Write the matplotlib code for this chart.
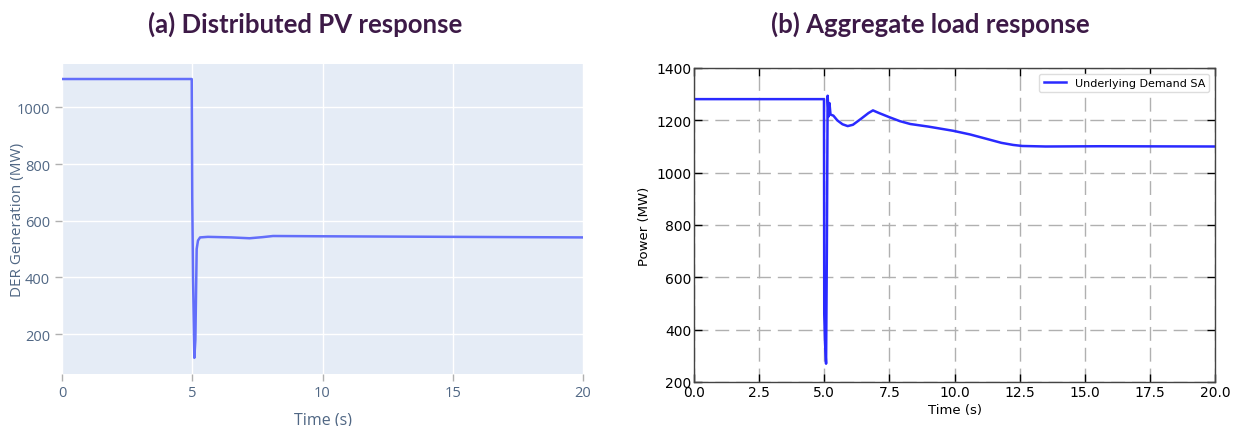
import matplotlib
matplotlib.use("Agg")
import matplotlib.pyplot as plt

# ---- data ----
pv_time = [0, 4.98, 5.0, 5.03, 5.08, 5.12, 5.17, 5.22, 5.3, 5.6, 6.5, 7.2, 7.7, 8.1, 10, 15, 20]
pv_gen = [1100, 1100, 680, 400, 116, 180, 500, 530, 541, 543, 541, 538, 542, 546, 545, 543, 541]

load_time = [0, 4.99, 5.0, 5.03, 5.07, 5.1, 5.13, 5.17, 5.2, 5.24, 5.35, 5.5, 5.7, 5.9, 6.1,
             6.4, 6.7, 6.87, 7.1, 7.5, 7.9, 8.3, 9.0, 9.95, 10.6, 11.24, 11.8, 12.25, 12.6,
             13.5, 15.6, 20]
load_power = [1281, 1281, 460, 350, 270, 700, 1294, 1215, 1266, 1222, 1218, 1200, 1185, 1178, 1183,
              1205, 1228, 1238, 1228, 1212, 1197, 1186, 1176, 1160, 1146, 1129, 1114, 1106, 1102,
              1100, 1101, 1100]

pv_xticks = [0, 5, 10, 15, 20]
pv_yticks = [200, 400, 600, 800, 1000]
load_xticks = [0.0, 2.5, 5.0, 7.5, 10.0, 12.5, 15.0, 17.5, 20.0]
load_yticks = [200, 400, 600, 800, 1000, 1200, 1400]

W, H = 1235, 427
fig = plt.figure(figsize=(W / 100, H / 100), dpi=100)

title_color = "#3d1a47"
fig.text(305 / W, 1 - 24 / H, "(a) Distributed PV response", ha="center", va="center",
         fontsize=18.5, fontweight="bold", color=title_color, family="Lato")
fig.text(930 / W, 1 - 24 / H, "(b) Aggregate load response", ha="center", va="center",
         fontsize=18.5, fontweight="bold", color=title_color, family="Lato")

# ---- left (plotly style) ----
ax_w, ax_h = 583 - 62, 375 - 65
axl = fig.add_axes([62 / W, 1 - 375 / H, ax_w / W, ax_h / H])
axl.set_facecolor("#E5ECF6")
axl.plot(pv_time, pv_gen, color="#636EFA", lw=1.8)
axl.set_xlim(0, 20)
axl.set_ylim(59, 1153)
axl.set_xticks(pv_xticks)
axl.set_yticks(pv_yticks)
axl.grid(True, color="white", lw=1)
axl.set_axisbelow(True)
for s in axl.spines.values():
    s.set_visible(False)
tc = "#506784"
axl.tick_params(axis="both", colors="#b0b0b0", labelcolor=tc, length=5, width=1,
                labelsize=10.5, labelfontfamily="Open Sans", direction="out")
axl.tick_params(axis="x", pad=3)
axl.set_ylabel("DER Generation (MW)", color=tc, fontsize=11, family="Open Sans")
axl.yaxis.set_label_coords(-44 / ax_w, 0.5)
axl.set_xlabel("Time (s)", color=tc, fontsize=11.5, family="Open Sans")
axl.xaxis.set_label_coords(0.5, -46 / ax_h)
axl.xaxis.label.set_va("center")
axl.yaxis.label.set_va("center")

# ---- right (matplotlib classic style) ----
axr = fig.add_axes([694 / W, 1 - 383 / H, (1215 - 694) / W, (383 - 69) / H])
axr.plot(load_time, load_power, color="#2a2aff", lw=1.8, label="Underlying Demand SA")
axr.set_xlim(0, 20)
axr.set_ylim(200, 1400)
axr.set_xticks(load_xticks)
axr.set_yticks(load_yticks)
axr.set_xticklabels([f"{v:.1f}" for v in load_xticks])
axr.grid(True, color="#b0b0b0", lw=1, linestyle=(0, (10, 5)))
axr.tick_params(axis="both", direction="in", top=True, right=True, length=6, width=1,
                labelsize=10, pad=2, colors="black")
for s in axr.spines.values():
    s.set_color("#444444")
    s.set_linewidth(1)
axr.set_ylabel("Power (MW)", fontsize=9.5)
axr.set_xlabel("Time (s)", fontsize=9.5, labelpad=3)
leg = axr.legend(loc="upper right", fontsize=8, framealpha=1, edgecolor="#dddddd")

fig.savefig("out.png", dpi=100)
